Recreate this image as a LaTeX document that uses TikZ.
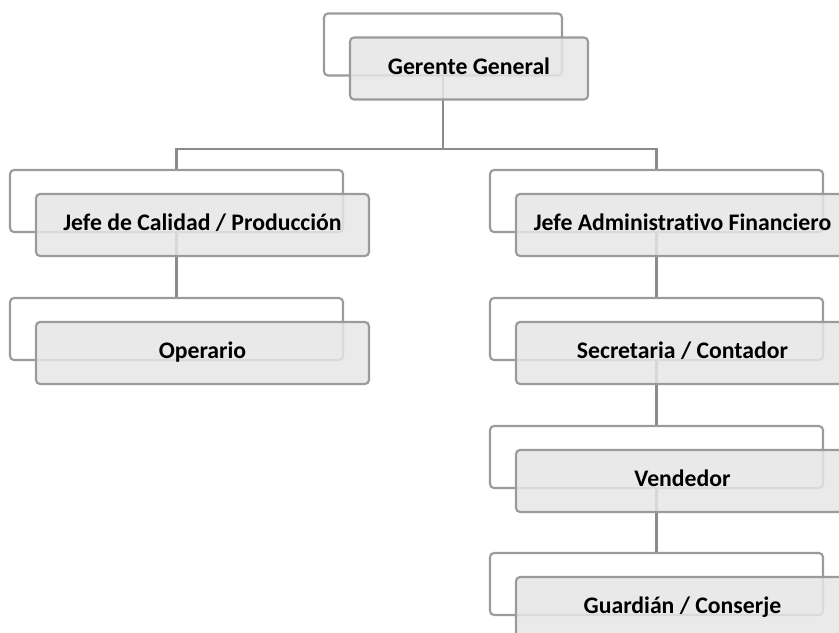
\documentclass[tikz,border=0pt]{standalone}
\usepackage{fontspec}
\setmainfont{Carlito}[Ligatures={NoCommon,NoContextual}]
\usetikzlibrary{positioning, calc}

\definecolor{linegray}{RGB}{155,155,155}
\definecolor{cardgray}{RGB}{230,230,230}

\tikzset{
  frame/.style={draw=linegray, line width=1.6pt, rounded corners=3pt, fill=white,
    minimum height=46.5pt, inner sep=0pt},
  card/.style={draw=linegray, line width=1.6pt, rounded corners=3pt, fill=cardgray,
    fill opacity=0.85, text opacity=1, text=black, minimum height=46.5pt, inner sep=0pt,
    text height=12pt, text depth=3.5pt, font=\bfseries\fontsize{17.8}{20}\selectfont},
  short/.style={minimum width=178.5pt},
  long/.style={minimum width=249.75pt},
  link/.style={draw=linegray!90!black, line width=1.6pt},
}

\begin{document}
\begin{tikzpicture}[x=0.75pt, y=-0.75pt]
\useasboundingbox (0,0) rectangle (839,632);

% Back frames
\node[frame, short] (gerB) at (443,44.5) {};
\node[frame, long] (calB) at (176.5,201) {};
\node[frame, long] (opeB) at (176.5,329) {};
\node[frame, long] (admB) at (656.5,201) {};
\node[frame, long] (secB) at (656.5,329) {};
\node[frame, long] (venB) at (656.5,457) {};
\node[frame, long] (guaB) at (656.5,584) {};

% Connectors
\coordinate (split) at ($(gerB.south)+(0,72)$);
\draw[link] (gerB.south) -- (split) -| (calB.north);
\draw[link] (split) -| (admB.north);
\draw[link] (calB.south) -- (opeB.north);
\draw[link] (admB.south) -- (secB.north);
\draw[link] (secB.south) -- (venB.north);
\draw[link] (venB.south) -- (guaB.north);

% Front cards
\node[card, short] (ger) at ($(gerB)+(26,24)$) {Gerente General};
\node[card, long] (cal) at ($(calB)+(26,24)$) {Jefe de Calidad / Producción};
\node[card, long] (ope) at ($(opeB)+(26,24)$) {Operario};
\node[card, long] (adm) at ($(admB)+(26,24)$) {Jefe Administrativo Financiero};
\node[card, long] (sec) at ($(secB)+(26,24)$) {Secretaria / Contador};
\node[card, long] (ven) at ($(venB)+(26,24)$) {Vendedor};
\node[card, long] (gua) at ($(guaB)+(26,24)$) {Guardián / Conserje};
\end{tikzpicture}
\end{document}
